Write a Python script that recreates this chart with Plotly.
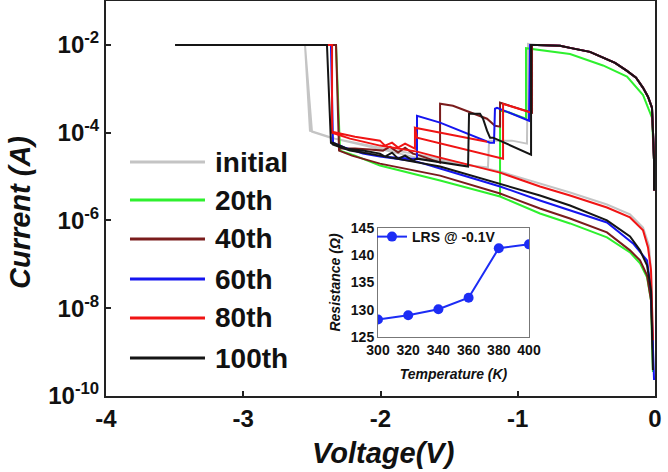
import plotly.graph_objects as go

# ---------------- data ----------------
# shared low-resistance branch: from ~0 V back up to the 1e-2 A compliance
lrs_voltage = [-0.007, -0.007, -0.015, -0.022, -0.051, -0.087, -0.138, -0.204,
               -0.291, -0.379, -0.474, -0.619, -0.692, -0.860]
lrs_current = [4.81e-6, 2.31e-5, 1.11e-4, 3.70e-4, 6.58e-4, 1.05e-3, 1.78e-3, 2.56e-3,
               3.90e-3, 5.07e-3, 6.93e-3, 8.55e-3, 9.5e-3, 1.0e-2]

initial_voltage = [-0.925, -0.933, -1.042, -1.209, -1.217, -1.348, -1.566, -1.734, -1.982,
                   -2.222, -2.368, -2.499, -2.550, -2.587, -2.550, -2.514, -2.332, -2.004,
                   -1.734, -1.566, -1.129, -0.838, -0.619, -0.350, -0.182, -0.087, -0.044,
                   -0.029, -0.022, -0.015]
initial_current = [1.05e-2, 5.62e-5, 6.58e-5, 6.58e-5, 1.60e-5, 1.78e-5, 2.31e-5, 2.70e-5, 4.11e-5,
                   6.24e-5, 7.70e-5, 1.05e-4, 1.0e-2, 1.0e-2, 1.0e-2, 1.11e-4, 7.31e-5, 4.56e-5,
                   3.16e-5, 2.56e-5, 1.30e-5, 6.93e-6, 4.33e-6, 2.31e-6, 1.37e-6, 6.93e-7, 2.70e-7,
                   7.31e-8, 1.52e-8, 1.87e-9]

c20_voltage = [-0.007, -0.007, -0.022, -0.087, -0.204, -0.379, -0.619, -0.838, -0.911, -0.940,
               -0.940, -1.078, -1.129, -1.129, -1.566, -2.004, -2.186, -2.295, -2.324, -2.368,
               -2.324, -2.295, -2.186, -2.004, -1.566, -1.129, -0.838, -0.619, -0.350, -0.182,
               -0.109, -0.058, -0.029, -0.022, -0.015]
c20_current = [4.81e-6, 2.31e-5, 2.2e-4, 7.2e-4, 1.9e-3, 3.4e-3, 6.2e-3, 7.8e-3, 8.4e-3, 8.4e-3,
               2.08e-4, 3.0e-4, 3.16e-4, 3.51e-6, 8.11e-6, 1.78e-5, 3.0e-5, 3.90e-5, 1.0e-2, 1.0e-2,
               1.0e-2, 3.90e-5, 3.0e-5, 1.78e-5, 8.11e-6, 3.51e-6, 1.44e-6, 8.55e-7, 4.11e-7, 1.87e-7,
               1.05e-7, 5.07e-8, 1.52e-8, 1.87e-9, 3.51e-10]

c40_voltage = [-0.896, -0.896, -1.115, -1.129, -1.129, -1.166, -1.224, -1.333, -1.472, -1.566,
               -1.566, -1.712, -1.763, -1.821, -1.872, -1.931, -1.982, -2.077, -2.186, -2.302,
               -2.324, -2.368, -2.324, -2.302, -2.208, -2.004, -1.566, -1.129, -0.838, -0.619,
               -0.350, -0.182, -0.109, -0.058, -0.029, -0.015]
c40_current = [1.0e-2, 2.85e-4, 4.81e-4, 4.81e-4, 1.37e-4, 1.44e-4, 2.08e-4, 2.85e-4, 4.11e-4, 4.56e-4,
               2.08e-5, 3.0e-5, 3.33e-5, 4.56e-5, 3.51e-5, 4.81e-5, 3.90e-5, 4.11e-5, 4.33e-5, 4.33e-5,
               1.0e-2, 1.0e-2, 1.0e-2, 3.90e-5, 3.0e-5, 1.97e-5, 1.05e-5, 4.11e-6, 1.87e-6, 1.11e-6,
               5.34e-7, 2.08e-7, 1.23e-7, 5.62e-8, 1.52e-8, 1.11e-9]

c60_voltage = [-0.911, -0.918, -1.151, -1.166, -1.173, -1.202, -1.566, -1.734, -1.734, -1.763,
               -1.858, -2.004, -2.128, -2.259, -2.346, -2.361, -2.404, -2.361, -2.346, -2.259,
               -2.004, -1.734, -1.566, -1.129, -0.838, -0.619, -0.350, -0.160, -0.058, -0.029,
               -0.015, -0.007]
c60_current = [1.0e-2, 1.87e-4, 3.70e-4, 3.51e-4, 5.93e-5, 5.93e-5, 1.69e-4, 2.43e-4, 2.56e-5, 2.56e-5,
               2.70e-5, 2.85e-5, 3.33e-5, 4.56e-5, 5.93e-5, 1.0e-2, 1.0e-2, 1.0e-2, 5.62e-5, 4.33e-5,
               2.85e-5, 2.19e-5, 1.52e-5, 5.93e-6, 2.85e-6, 1.69e-6, 9.0e-7, 3.0e-7, 1.23e-7, 2.56e-8,
               1.87e-9, 2.31e-10]

c80_voltage = [-0.903, -0.903, -1.107, -1.107, -1.566, -1.734, -1.749, -1.566, -1.224, -1.566,
               -1.749, -1.749, -1.821, -1.872, -1.916, -1.967, -2.004, -2.186, -2.353, -2.353,
               -2.404, -2.353, -2.353, -2.222, -2.004, -1.734, -1.566, -1.129, -0.838, -0.619,
               -0.350, -0.182, -0.087, -0.051, -0.029, -0.022, -0.015]
c80_current = [1.0e-2, 2.85e-4, 4.56e-4, 2.56e-5, 5.62e-5, 7.70e-5, 1.30e-4, 1.0e-4, 6.24e-5, 1.0e-4,
               1.30e-4, 4.33e-5, 5.62e-5, 4.56e-5, 5.93e-5, 5.07e-5, 6.58e-5, 8.11e-5, 1.05e-4, 1.0e-2,
               1.0e-2, 1.0e-2, 1.0e-4, 7.31e-5, 5.07e-5, 3.70e-5, 2.70e-5, 1.23e-5, 5.93e-6, 3.70e-6,
               1.97e-6, 1.17e-6, 5.93e-7, 2.43e-7, 7.31e-8, 1.52e-8, 1.87e-9]

c100_voltage = [-0.903, -0.903, -1.180, -1.202, -1.224, -1.253, -1.275, -1.333, -1.355, -1.362,
                -1.566, -1.734, -1.763, -1.821, -1.872, -1.916, -1.967, -2.004, -2.128, -2.244,
                -2.346, -2.361, -2.390, -3.497, -2.390, -2.361, -2.346, -2.222, -2.004, -1.566,
                -1.129, -0.838, -0.619, -0.350, -0.182, -0.109, -0.058, -0.029, -0.022, -0.015]
c100_current = [1.0e-2, 3.16e-5, 7.70e-5, 7.70e-5, 1.11e-4, 2.08e-4, 2.70e-4, 2.70e-4, 2.70e-4, 1.69e-5,
                2.08e-5, 2.56e-5, 2.31e-5, 3.0e-5, 2.56e-5, 3.51e-5, 2.85e-5, 3.33e-5, 3.90e-5, 4.33e-5,
                5.93e-5, 5.93e-5, 1.0e-2, 1.0e-2, 1.0e-2, 5.93e-5, 5.34e-5, 3.90e-5, 3.0e-5, 1.69e-5,
                6.93e-6, 3.70e-6, 2.19e-6, 1.0e-6, 4.33e-7, 2.08e-7, 9.5e-8, 2.56e-8, 3.16e-9, 3.90e-10]

series_names = ["initial", "20th", "40th", "60th", "80th", "100th"]
series_colors = ["#c4c4c4", "#2ef02e", "#7a1c1c", "#1515f0", "#f01414", "#151515"]

# inset: LRS resistance vs temperature
temperature_k = [300, 320, 340, 360, 380, 400]
resistance_ohm = [128.2, 129.0, 130.1, 132.2, 141.3, 142.0]

y_tick_vals = [1e-10, 1e-8, 1e-6, 1e-4, 1e-2]
y_tick_text = ["10<sup>-10</sup>", "10<sup>-8</sup>", "10<sup>-6</sup>", "10<sup>-4</sup>", "10<sup>-2</sup>"]
x_tick_vals = [-4, -3, -2, -1, 0]
x_tick_text = ["-4", "-3", "-2", "-1", "0"]

# ---------------- figure ----------------
paths = [
    (lrs_voltage + initial_voltage, lrs_current + initial_current),
    (c20_voltage, c20_current),
    (lrs_voltage + c40_voltage, lrs_current + c40_current),
    (lrs_voltage + c60_voltage, lrs_current + c60_current),
    (lrs_voltage + c80_voltage, lrs_current + c80_current),
    (lrs_voltage + c100_voltage, lrs_current + c100_current),
]

FONT = "Liberation Sans"
fig = go.Figure()
for (xv, yv), name, col in zip(paths, series_names, series_colors):
    fig.add_trace(go.Scatter(x=xv, y=yv, mode="lines", name=name,
                             line=dict(color=col, width=2), showlegend=False,
                             xaxis="x", yaxis="y"))

fig.add_trace(go.Scatter(x=temperature_k, y=resistance_ohm, mode="lines+markers",
                         name="LRS @ -0.1V", line=dict(color="#1c2cf5", width=2),
                         marker=dict(color="#1c2cf5", size=10),
                         xaxis="x2", yaxis="y2", legend="legend2"))

# custom legend for the I-V curves (long line samples)
legend_y = [0.5924, 0.4962, 0.3975, 0.2962, 0.1975, 0.0962]
shapes = []
annotations = []
for name, col, yy in zip(series_names, series_colors, legend_y):
    shapes.append(dict(type="line", xref="paper", yref="paper", x0=0.0437, x1=0.1803,
                       y0=yy, y1=yy, line=dict(color=col, width=3)))
    annotations.append(dict(text=name, xref="paper", yref="paper", x=0.1949, y=yy,
                            xanchor="left", yanchor="middle", showarrow=False,
                            font=dict(family=FONT, size=28, color="#111", weight="bold")))

annotations.append(dict(text="Voltage(V)", xref="paper", yref="paper", x=0.5046, y=-0.1443,
                        xanchor="center", yanchor="middle", showarrow=False,
                        font=dict(family=FONT, size=29, color="#111", weight="bold", style="italic")))
annotations.append(dict(text="Current (A)", xref="paper", yref="paper", x=-0.1566, y=0.4633,
                        xanchor="center", yanchor="middle", showarrow=False, textangle=-90,
                        font=dict(family=FONT, size=29, color="#111", weight="bold", style="italic")))

tick_font = dict(family=FONT, size=24, color="#111", weight="bold")
inset_font = dict(family=FONT, size=14, color="#111", weight="bold")

fig.update_layout(
    width=668, height=472,
    margin=dict(l=106, r=13, t=1, b=76, autoexpand=False),
    paper_bgcolor="white", plot_bgcolor="white",
    shapes=shapes, annotations=annotations,
    xaxis=dict(domain=[0, 1], range=[-4, 0], tickvals=x_tick_vals, ticktext=x_tick_text,
               ticks="inside", ticklen=5, tickwidth=2, tickcolor="#222",
               showline=True, linecolor="#222", linewidth=2, mirror=True, automargin=False,
               showgrid=False, zeroline=False, tickfont=tick_font, ticklabelstandoff=0),
    yaxis=dict(type="log", domain=[0, 1], range=[-10, -1], tickvals=y_tick_vals, ticktext=y_tick_text,
               ticks="inside", ticklen=5, tickwidth=2, tickcolor="#222", automargin=False,
               showline=True, linecolor="#222", linewidth=2, mirror=True,
               showgrid=False, zeroline=False, tickfont=tick_font),
    xaxis2=dict(domain=[0.4954, 0.7705], anchor="y2", range=[300, 400], dtick=20, tick0=300,
                showline=True, linecolor="#777", linewidth=1, mirror=True, ticks="",
                showgrid=False, zeroline=False, tickfont=inset_font, tickangle=0, automargin=False,
                title=dict(text="Temperature (K)", standoff=12,
                           font=dict(family=FONT, size=14, color="#111", weight="bold", style="italic"))),
    yaxis2=dict(domain=[0.1494, 0.4253], anchor="x2", range=[125, 145], dtick=5, tick0=125,
                showline=True, linecolor="#777", linewidth=1, mirror=True, ticks="",
                showgrid=False, zeroline=False, tickfont=inset_font, automargin=False,
                title=dict(text="Resistance (Ω)", standoff=6,
                           font=dict(family=FONT, size=14, color="#111", weight="bold", style="italic"))),
    legend2=dict(x=0.4845, y=0.443, xanchor="left", yanchor="top", bgcolor="rgba(0,0,0,0)",
                 font=inset_font, itemwidth=30),
)

fig.write_html("out.html")
